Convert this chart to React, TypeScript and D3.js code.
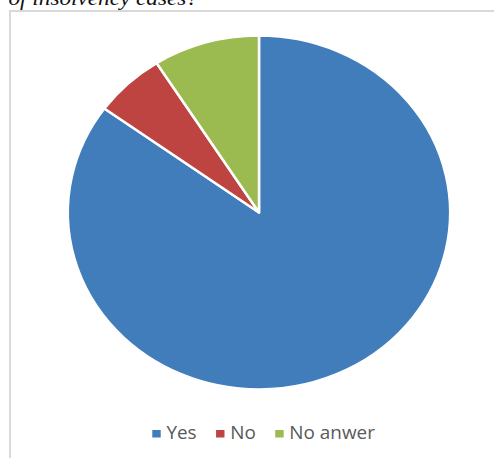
import React, { useEffect, useRef } from "react";
import * as d3 from "d3";

const categories = ["Yes", "No", "No anwer"];
const values = [85, 6, 9];
const colors = ["#417DBB", "#BE4441", "#9BBA4F"];
const titleText = "of insolvency cases?";

export default function App() {
  const ref = useRef<SVGSVGElement | null>(null);

  useEffect(() => {
    const svg = d3.select(ref.current);
    svg.selectAll("*").remove();
    const W = 494, H = 458;
    const sx = 1.08;

    svg.append("rect").attr("width", W).attr("height", H).attr("fill", "#fff");

    // title fragment (cut off at top, as in the reference)
    svg.append("text")
      .attr("y", 4.5)
      .attr("font-family", "'Liberation Serif', 'Times New Roman', serif")
      .attr("font-style", "italic")
      .attr("font-size", 21.5)
      .attr("fill", "#111")
      .attr("transform", `scale(${sx},1)`)
      .attr("x", 8.5 / sx)
      .text(titleText);

    // chart area border
    svg.append("rect")
      .attr("x", 10).attr("y", 11)
      .attr("width", W + 20).attr("height", H + 20)
      .attr("fill", "none")
      .attr("stroke", "#D9D9D9")
      .attr("stroke-width", 2);

    const r = 177;
    const pie = d3.pie<number>().sort(null).value(d => d)(values);
    const arc = d3.arc<d3.PieArcDatum<number>>().innerRadius(0).outerRadius(r);

    const g = svg.append("g").attr("transform", `translate(259,212.5) scale(${sx},1)`);
    g.selectAll("path")
      .data(pie)
      .enter()
      .append("path")
      .attr("d", arc as any)
      .attr("fill", (_, i) => colors[i])
      .attr("stroke", "#fff")
      .attr("stroke-width", 2.5)
      .attr("stroke-linejoin", "round")
      .attr("vector-effect", "non-scaling-stroke");

    // legend
    const lg = svg.append("g").attr("transform", `scale(${sx},1)`);
    let x = 152.3 / sx;
    const baseY = 439.5;
    categories.forEach((c, i) => {
      lg.append("rect")
        .attr("x", x).attr("y", 430)
        .attr("width", 7.8).attr("height", 7.5)
        .attr("fill", colors[i]);
      x += 7.8 + 5.3;
      const t = lg.append("text")
        .attr("x", x).attr("y", baseY)
        .attr("font-family", "'Open Sans', 'Noto Sans', sans-serif")
        .attr("font-size", 17.5)
        .attr("fill", "#595959")
        .text(c);
      const w = (t.node() as SVGTextElement).getComputedTextLength();
      x += w + 18;
    });
  }, []);

  return (
    <svg
      ref={ref}
      width={494}
      height={458}
      style={{ position: "absolute", left: 0, top: 0, display: "block" }}
    />
  );
}
